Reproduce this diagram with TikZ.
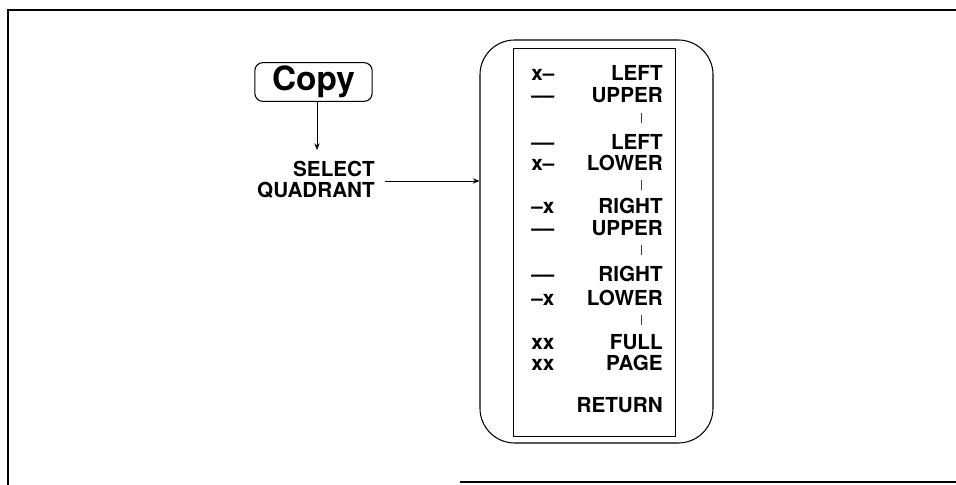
\documentclass[tikz,border=0pt]{standalone}
\usepackage{fontspec}
\setmainfont{TeX Gyre Heros}
\usetikzlibrary{arrows.meta}
\tikzset{
  nd_key/.style={rectangle,rounded corners=6pt,draw,thick,minimum width=88pt,minimum height=29pt,inner sep=0pt,font=\fontsize{25}{27}\selectfont\bfseries},
  nd_txt/.style={inner sep=0pt,font=\fontsize{15.5}{17}\selectfont\bfseries},
  nd_menu/.style={rectangle,rounded corners=26pt,draw,thick,minimum width=174.75pt,minimum height=302.25pt},
  nd_panel/.style={rectangle,draw,semithick,minimum width=121.5pt,minimum height=291pt},
  arr/.style={-{Stealth[length=5pt,width=4pt]},semithick},
  tick/.style={thin,black!75},
}
\begin{document}
\begin{tikzpicture}[x=0.75pt,y=-0.75pt]
\useasboundingbox (0,0) rectangle (956,485);
\def\cL{531}\def\cR{663}\def\cT{641}
% frame
\draw[thick] (956,10) -- (8,10) -- (8,485);
\draw[thick] (460,482) -- (956,482);
% key and prompt
\node[nd_key] at (313.5,82)(copy){Copy};
\node[nd_txt,anchor=base east] at (375,176)(sel){SELECT};
\node[nd_txt,anchor=base east] at (375,197)(quad){QUADRANT};
\coordinate (selin) at (317,150);
\coordinate (selout) at (385,181);
% menu
\node[nd_menu]  at (596.5,241.5)(menu){};
\node[nd_panel] at (594,242)(panel){};
\foreach \y/\l/\r/\n in {80/x\textendash/LEFT/r1,103/\textendash\textendash/UPPER/r2,
    149/\textendash\textendash/LEFT/r3,170/x\textendash/LOWER/r4,
    213/\textendash x/RIGHT/r5,235/\textendash\textendash/UPPER/r6,
    281/\textendash\textendash/RIGHT/r7,305/\textendash x/LOWER/r8,
    349/xx/FULL/r9,370/xx/PAGE/r10}{
  \node[nd_txt,anchor=base west] at (\cL,\y)(\n l){\l};
  \node[nd_txt,anchor=base east] at (\cR,\y)(\n){\r};
}
\node[nd_txt,anchor=base east] at (\cR,412)(ret){RETURN};
% arrows
\draw[arr](copy.south -| selin)--(selin);
\draw[arr](selout)--(selout -| menu.west);
\coordinate (tickx) at (\cT,0);
\foreach \a in {r2,r4,r6,r8}{\draw[tick]([yshift=-6.75pt]\a.south -| tickx)--++(0,10);}
\end{tikzpicture}
\end{document}
